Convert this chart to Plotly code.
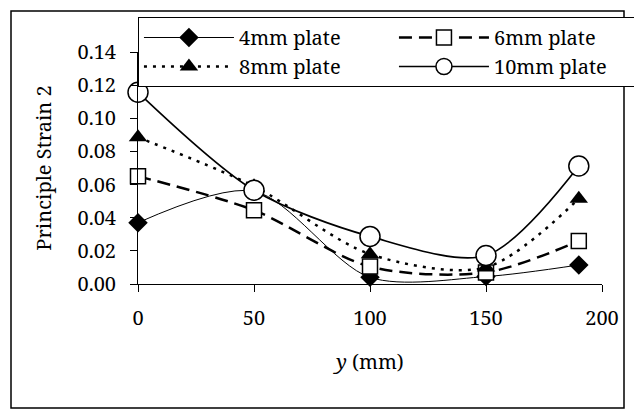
import plotly.graph_objects as go

y_mm = [0, 50, 100, 150, 190]
strain_4mm = [0.037, 0.056, 0.004, 0.0045, 0.0115]
strain_6mm = [0.065, 0.0445, 0.0105, 0.007, 0.026]
strain_8mm = [0.0885, 0.059, 0.018, 0.010, 0.0515]
strain_10mm = [0.1157, 0.0566, 0.0287, 0.0172, 0.0712]
series_names = ["4mm plate", "6mm plate", "8mm plate", "10mm plate"]

FONT = "Noto Serif"
W, H = 634, 416
L, R, T, B = 138, 32, 52, 132
pw, ph = W - L - R, H - T - B
SM = 0.85

def px_x(p):
    return (p - L) / pw

def px_y(p):
    return (H - B - p) / ph

fig = go.Figure()
fig.add_trace(go.Scatter(
    x=y_mm, y=strain_4mm, name=series_names[0], mode="lines+markers",
    line=dict(color="black", width=1, shape="spline", smoothing=SM),
    marker=dict(symbol="diamond", size=15, color="black"),
    cliponaxis=False))
fig.add_trace(go.Scatter(
    x=y_mm, y=strain_6mm, name=series_names[1], mode="lines+markers",
    line=dict(color="black", width=2.5, shape="spline", smoothing=SM, dash="13px,7px"),
    marker=dict(symbol="square", size=15, color="white", line=dict(color="black", width=1.5)),
    cliponaxis=False))
fig.add_trace(go.Scatter(
    x=y_mm, y=strain_8mm, name=series_names[2], mode="lines+markers",
    line=dict(color="black", width=2.5, shape="spline", smoothing=SM, dash="3px,6px"),
    marker=dict(symbol="triangle-up", size=16, color="black"),
    cliponaxis=False))
fig.add_trace(go.Scatter(
    x=y_mm, y=strain_10mm, name=series_names[3], mode="lines+markers",
    line=dict(color="black", width=1.7, shape="spline", smoothing=SM),
    marker=dict(symbol="circle", size=20, color="white", line=dict(color="black", width=1.5)),
    cliponaxis=False))

fig.update_layout(
    width=W, height=H,
    margin=dict(l=L, r=R, t=T, b=B, autoexpand=False),
    paper_bgcolor="white", plot_bgcolor="white",
    font=dict(family=FONT, size=20, color="black"),
    showlegend=True,
    legend=dict(
        orientation="h", x=-0.0001, y=px_y(17), xanchor="left", yanchor="top",
        bordercolor="black", borderwidth=1, bgcolor="white",
        entrywidth=150, entrywidthmode="pixels", itemwidth=90,
        font=dict(family=FONT, size=20, color="black"),
        traceorder="normal",
    ),
    xaxis=dict(
        range=[0, 200], dtick=50, tick0=0, showgrid=False, zeroline=False,
        showline=True, linecolor="black", linewidth=1,
        ticks="outside", ticklen=7, tickcolor="black", ticklabelstandoff=9,
        tickfont=dict(family=FONT, size=20),
        title=dict(text="<i>y</i> (mm)", standoff=24, font=dict(family=FONT, size=20)),
        automargin=False,
    ),
    yaxis=dict(
        range=[0, 0.14], dtick=0.02, tick0=0, tickformat=".2f", showgrid=False, zeroline=False,
        showline=True, linecolor="black", linewidth=1,
        ticks="outside", ticklen=7, tickcolor="black", ticklabelstandoff=10,
        tickfont=dict(family=FONT, size=20),
        title=dict(text="Principle Strain 2", standoff=20, font=dict(family=FONT, size=20)),
        automargin=False,
    ),
    shapes=[dict(
        type="rect", xref="paper", yref="paper",
        x0=px_x(11), x1=px_x(624), y0=px_y(408), y1=px_y(11),
        line=dict(color="black", width=1.5), fillcolor="rgba(0,0,0,0)", layer="below")],
)

fig.write_html("out.html")
